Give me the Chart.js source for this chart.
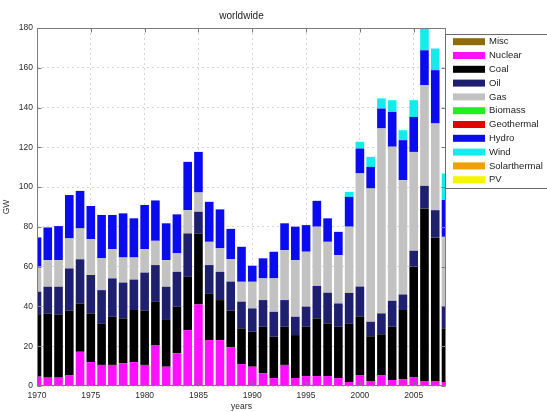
<!DOCTYPE html>
<html>
<head>
<meta charset="utf-8">
<script src="https://cdn.jsdelivr.net/npm/chart.js@4.4.1/dist/chart.umd.min.js"></script>
<style>
html,body{margin:0;padding:0;background:#fff;}
#wrap{width:547px;height:412px;position:relative;overflow:hidden;}
</style>
</head>
<body>
<div id="wrap"><canvas id="c" width="547" height="412"></canvas></div>
<script>
// ---- data (GW per year) ----
const years = [1970,1971,1972,1973,1974,1975,1976,1977,1978,1979,
               1980,1981,1982,1983,1984,1985,1986,1987,1988,1989,
               1990,1991,1992,1993,1994,1995,1996,1997,1998,1999,
               2000,2001,2002,2003,2004,2005,2006,2007,2008];
const misc = [0,0,0,0,0,0,0,0,0,0, 0,0,0,0,0,0,0,0,0,0, 0,0,0,0,0,0,0,0,0,0, 0,0,0,0,0,0,0,0,0];
const nuclear = [4.7,4.2,4.2,5.5,17.2,12,10.6,10.6,11.4,12,
                 10.6,20.6,9.7,16.4,28.1,41,23.1,23.1,19.5,11,
                 9.7,6.4,4,10.6,4,5,5,5,4,2,
                 5.5,2.5,5.5,3,3.5,4.5,2.5,2.5,2];
const coal = [31,32.3,31.8,32.5,24.3,24.5,20.9,24.2,22.6,26.2,
              27.4,21.7,23.5,23.5,26.8,35.7,23.5,20.1,18.5,18,
              17.6,23.4,20.8,19.2,21.6,24.8,29,26.5,25.8,29.5,
              29.5,22.5,20.5,26.8,34.7,55.5,86.8,72.1,27];
const oil = [11.7,13.4,13.9,21.1,22.2,19.3,16.7,19.3,18,15.3,
             19,18.5,16.7,17.5,21.8,10.9,14.2,14.2,14.5,13.4,
             11.7,13.4,12.5,13.4,9.2,10.1,16.3,15.4,11.7,15.3,
             15,7.3,10.5,13,7.8,8,11.3,13.8,10.9];
const gas = [12.6,13.4,13.4,15.1,15.5,18,16,14.7,12.6,11.1,
             11.8,12.2,13.4,9.3,11.7,9.7,11.7,11.8,11.3,10,
             13.4,10.9,16.8,25.1,28.5,27.6,29.8,25.6,24.3,33.3,
             56.9,67,93,77.5,57.5,49.7,50.7,43.6,35.1];
const biomass = [0,0,0,0,0,0,0,0,0,0, 0,0,0,0,0,0,0,0,0,0, 0,0,0,0,0,0,0,0,0,0, 0,0,0,0,0,0,0,0,0];
const geothermal = [0,0,0,0,0,0,0,0,0,0, 0,0,0,0,0,0,0,0,0,0, 0,0,0,0,0,0,0,0,0,0, 0,0,0,0,0,0,0,0,0];
const hydro = [14.7,16.4,17.1,21.8,18.9,16.7,21.8,17.2,22.2,19.7,
               22.2,20.3,18.5,19.6,24.3,20.4,20.1,19.6,15.2,17.6,
               8.1,10.1,13.4,13.5,16.8,13.4,13,11.8,11.7,15,
               12.5,10.9,10,17.5,20.1,17.6,17.5,26.8,18.5];
const wind = [0,0,0,0,0,0,0,0,0,0, 0,0,0,0,0,0,0,0,0,0, 0,0,0,0,0,0,0,0,0,2.5,
              3.4,5,5.1,5.9,5,8.4,11.8,10.9,13.4];
const solarthermal = [0,0,0,0,0,0,0,0,0,0, 0,0,0,0,0,0,0,0,0,0, 0,0,0,0,0,0,0,0,0,0, 0,0,0,0,0,0,0,0,0];
const pv = [0,0,0,0,0,0,0,0,0,0, 0,0,0,0,0,0,0,0,0,0, 0,0,0,0,0,0,0,0,0,0, 0,0,0,0,0,0,0,0,0];

const seriesNames = ['Misc','Nuclear','Coal','Oil','Gas','Biomass','Geothermal','Hydro','Wind','Solarthermal','PV'];
const seriesValues = [misc,nuclear,coal,oil,gas,biomass,geothermal,hydro,wind,solarthermal,pv];
const seriesColors = ['#8f6a13','#ff10ff','#000000','#1f1f70','#c2c2c2','#1ef01e','#e00000','#0b0bef','#14ecec','#f0a000','#f5f500'];

const xTicks = [1970,1975,1980,1985,1990,1995,2000,2005];
const yTicks = [0,20,40,60,80,100,120,140,160,180];
const titleText = 'worldwide';
const xTitle = 'years';
const yTitle = 'GW';

Chart.defaults.font.family = "'Liberation Sans', Arial, Helvetica, sans-serif";
Chart.defaults.color = '#2a2a2a';

const boxPlugin = {
  id: 'box',
  afterDatasetsDraw(chart) {
    const {ctx, chartArea: a, scales} = chart;
    const L = Math.round(a.left) + 0.5, T = Math.round(a.top) + 0.5;
    const R = Math.round(a.right) - 0.5, B = Math.round(a.bottom) - 0.5;
    ctx.save();
    ctx.strokeStyle = '#7c7c7c';
    ctx.lineWidth = 1;
    ctx.strokeRect(L, T, R - L, B - T);
    ctx.beginPath();
    scales.y.ticks.forEach(t => {
      const py = Math.round(scales.y.getPixelForValue(t.value)) + 0.5;
      ctx.moveTo(L, py); ctx.lineTo(L + 4, py);
      ctx.moveTo(R, py); ctx.lineTo(R - 4, py);
    });
    scales.x.ticks.forEach(t => {
      const px = Math.round(scales.x.getPixelForValue(t.value)) + 0.5;
      ctx.moveTo(px, B); ctx.lineTo(px, B - 4);
      ctx.moveTo(px, T); ctx.lineTo(px, T + 4);
    });
    ctx.stroke();
    ctx.restore();
  }
};

const titlePlugin = {
  id: 'mtitle',
  afterDraw(chart) {
    const {ctx, chartArea: a} = chart;
    ctx.save();
    ctx.fillStyle = '#1a1a1a';
    ctx.font = "10px 'Liberation Sans', Arial, sans-serif";
    ctx.textAlign = 'center';
    ctx.textBaseline = 'middle';
    ctx.fillText(titleText, (a.left + a.right) / 2, 16.5);
    ctx.restore();
  }
};

const legendPlugin = {
  id: 'mlegend',
  afterDraw(chart) {
    const {ctx} = chart;
    const ds = chart.data.datasets;
    const x0 = 445.5, y0 = 34.5, rowH = 13.8;
    ctx.save();
    ctx.fillStyle = '#ffffff';
    ctx.fillRect(x0, y0, 140, 154);
    ctx.strokeStyle = '#6a6a6a';
    ctx.lineWidth = 1;
    ctx.strokeRect(x0, y0, 140, 154);
    ctx.font = "9.5px 'Liberation Sans', Arial, sans-serif";
    ctx.textBaseline = 'middle';
    ctx.textAlign = 'left';
    ds.forEach((d, i) => {
      const cy = 41.7 + i * rowH;
      ctx.fillStyle = d.backgroundColor;
      ctx.fillRect(453, cy - 3.5, 32, 7);
      ctx.fillStyle = '#222';
      ctx.fillText(d.label, 489, cy);
    });
    ctx.restore();
  }
};

const datasets = seriesNames.map((name, k) => ({
  label: name,
  data: years.map((yr, i) => ({x: yr, y: seriesValues[k][i]})),
  backgroundColor: seriesColors[k],
  borderWidth: 0,
  barPercentage: 0.8,
  categoryPercentage: 1.0,
  clip: 0
}));

new Chart(document.getElementById('c'), {
  type: 'bar',
  data: {datasets},
  options: {
    responsive: false,
    animation: false,
    devicePixelRatio: 1,
    layout: {padding: {left: 0, right: 101, top: 28, bottom: 0}},
    plugins: {legend: {display: false}, tooltip: {enabled: false}, title: {display: false}},
    scales: {
      x: {
        type: 'linear', stacked: true, min: 1970, max: 2008, offset: false,
        afterBuildTicks: s => { s.ticks = xTicks.map(v => ({value: v})); },
        afterFit: s => { s.height = 26; },
        ticks: {callback: v => String(v), font: {size: 8.5}, padding: 5, maxRotation: 0, autoSkip: false},
        grid: {offset: false, color: '#d6d6d6', lineWidth: 1, drawTicks: false},
        border: {display: false, dash: [2, 3]},
        title: {display: true, text: xTitle, font: {size: 8.5}, padding: 0}
      },
      y: {
        stacked: true, min: 0, max: 180,
        afterBuildTicks: s => { s.ticks = yTicks.map(v => ({value: v})); },
        afterFit: s => { s.width = 37; },
        ticks: {callback: v => String(v), font: {size: 8.5}, padding: 4},
        grid: {color: '#d6d6d6', lineWidth: 1, drawTicks: false},
        border: {display: false, dash: [2, 3]},
        title: {display: true, text: yTitle, font: {size: 8.5}, padding: {top: 2, bottom: 0}}
      }
    }
  },
  plugins: [boxPlugin, titlePlugin, legendPlugin]
});
</script>
</body>
</html>
